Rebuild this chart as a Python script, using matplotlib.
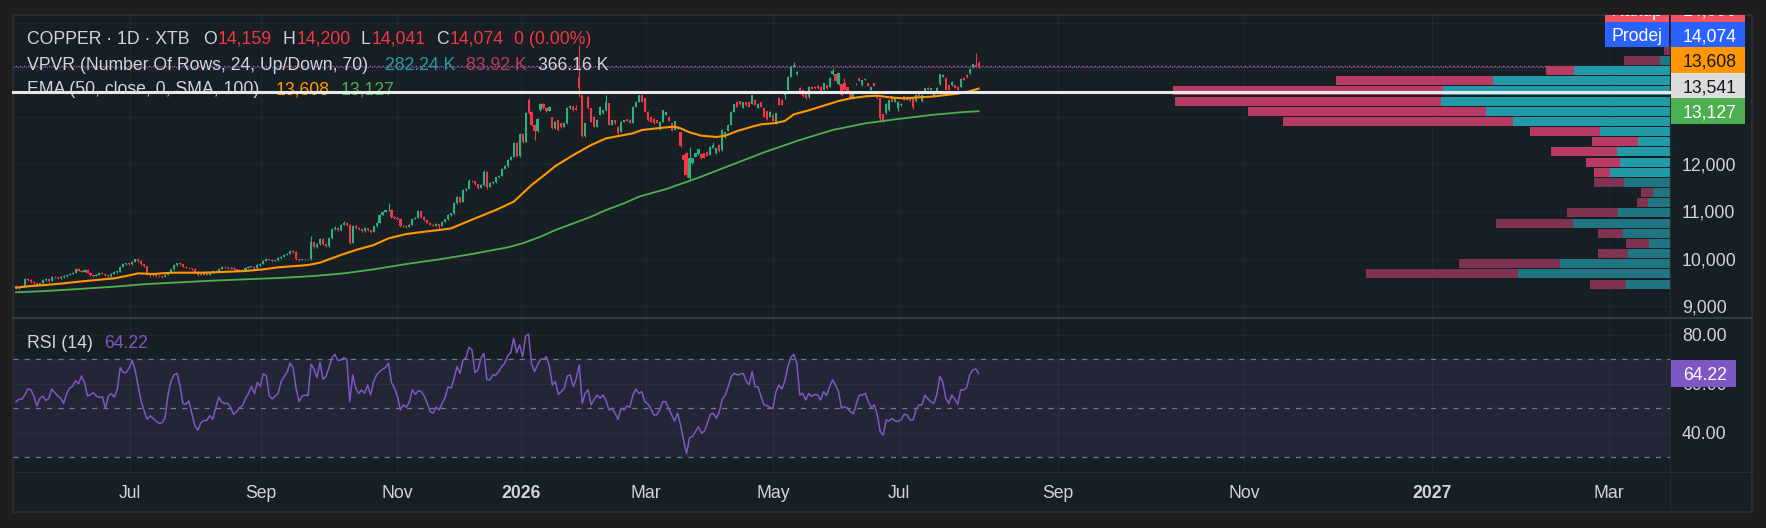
import numpy as np
import matplotlib
matplotlib.use("Agg")
import matplotlib.pyplot as plt
from matplotlib.patches import Rectangle
from matplotlib.lines import Line2D
from matplotlib.transforms import Bbox, blended_transform_factory

plt.rcParams["font.family"] = ["Liberation Sans", "DejaVu Sans"]

# daily candles, one value per bar
opens = [
    9420, 9380, 9400, 9420, 9560, 9550, 9500, 9470, 9440, 9470,
    9540, 9560, 9530, 9610, 9600, 9580, 9600, 9620, 9650, 9680,
    9700, 9780, 9740, 9720, 9760, 9700, 9640, 9630, 9660, 9690,
    9680, 9640, 9620, 9680, 9710, 9720, 9820, 9880, 9890, 9880,
    9930, 9980, 9950, 9880, 9840, 9660, 9640, 9650, 9630, 9620,
    9610, 9660, 9700, 9770, 9860, 9900, 9880, 9820, 9800, 9790,
    9780, 9720, 9650, 9660, 9690, 9660, 9700, 9740, 9730, 9780,
    9830, 9810, 9790, 9800, 9770, 9740, 9760, 9740, 9800, 9820,
    9830, 9790, 9860, 9890, 9950, 9990, 9970, 9950, 9960, 10010,
    10040, 10080, 10100, 10160, 10140, 9990, 9970, 9980, 9990, 9980,
    10340, 10240, 10300, 10420, 10300, 10260, 10430, 10620, 10650, 10600,
    10720, 10760, 10720, 10330, 10700, 10640, 10620, 10580, 10640, 10600,
    10570, 10680, 10760, 10930, 10990, 11020, 11040, 10890, 10860, 10840,
    10680, 10700, 10670, 10720, 10840, 10860, 11000, 10890, 10820, 10760,
    10720, 10700, 10730, 10690, 10780, 10830, 10920, 10960, 11170, 11300,
    11200, 11450, 11480, 11650, 11640, 11580, 11500, 11560, 11840, 11520,
    11600, 11620, 11720, 11760, 11900, 11960, 12100, 12160, 12450, 12170,
    12650, 12480, 13360, 13110, 12840, 12700, 13150, 13290, 13200, 13140,
    13000, 12770, 12940, 12870, 12800, 12870, 13190, 13230, 13200, 13860,
    13470, 12600, 13430, 13190, 13010, 12800, 13050, 13080, 13150, 13300,
    12840, 12940, 12800, 12690, 12900, 12960, 12950, 12880, 13220, 13330,
    13470, 13400, 13120, 13010, 12970, 12940, 12740, 12900, 13050, 13010,
    12870, 12730, 12750, 12680, 12200, 12250, 11700, 12020, 12160, 12210,
    12210, 12230, 12270, 12200, 12350, 12230, 12420, 12300, 12570, 12710,
    12840, 13120, 13330, 13340, 13200, 13320, 13330, 13290, 13370, 13200,
    13320, 13190, 13130, 13010, 13050, 12870, 13400, 13370, 13470, 13580,
    13860, 14070, 13910, 13630, 13580, 13510, 13420, 13650, 13650, 13670,
    13650, 13580, 13680, 13650, 13910, 13910, 13700, 13700, 13720, 13640,
    13540, 13400, 13700, 13830, 13680, 13790, 13720, 13580, 13720, 13470,
    13400, 13060, 13080, 13150, 13440, 13330, 13200, 13250, 13440, 13370,
    13400, 13400, 13340, 13510, 13340, 13540, 13630, 13580, 13440, 13530,
    13700, 13860, 13830, 13680, 13680, 13680, 13650, 13650, 13840, 13900,
    13930, 14050, 14110, 14159,
]
highs = [
    9440, 9420, 9440, 9590, 9580, 9565, 9520, 9490, 9490, 9560,
    9590, 9575, 9630, 9635, 9615, 9620, 9640, 9670, 9700, 9720,
    9800, 9795, 9760, 9775, 9770, 9710, 9655, 9680, 9705, 9715,
    9690, 9650, 9695, 9725, 9740, 9835, 9895, 9910, 9900, 9945,
    10000, 9985, 9960, 9890, 9850, 9670, 9665, 9660, 9645, 9635,
    9675, 9715, 9785, 9875, 9915, 9920, 9890, 9835, 9815, 9800,
    9790, 9730, 9675, 9705, 9700, 9715, 9755, 9750, 9795, 9845,
    9840, 9820, 9815, 9810, 9780, 9775, 9770, 9815, 9835, 9845,
    9840, 9875, 9905, 9965, 10010, 10000, 9980, 9975, 10025, 10055,
    10095, 10120, 10190, 10175, 10150, 10000, 9995, 10000, 10000, 10470,
    10350, 10320, 10440, 10430, 10310, 10450, 10640, 10680, 10660, 10740,
    10790, 10770, 10730, 10720, 10710, 10660, 10630, 10660, 10650, 10610,
    10700, 10780, 10950, 11010, 11040, 11185, 11050, 10900, 10880, 10850,
    10720, 10710, 10735, 10855, 10875, 11020, 11010, 10900, 10830, 10770,
    10730, 10745, 10740, 10795, 10845, 10935, 10975, 11190, 11320, 11310,
    11470, 11500, 11680, 11670, 11650, 11590, 11580, 11880, 11850, 11620,
    11640, 11740, 11780, 11920, 11980, 12120, 12180, 12480, 12470, 12670,
    12660, 13100, 13400, 13130, 12850, 12990, 13310, 13300, 13220, 13230,
    13010, 12920, 12950, 12880, 12890, 13210, 13260, 13240, 13250, 14530,
    13480, 12880, 13450, 13200, 13020, 12960, 13240, 13160, 13470, 13310,
    12950, 12950, 12810, 12910, 12950, 12970, 12960, 13230, 13340, 13480,
    13480, 13410, 13130, 13020, 12980, 12950, 12910, 13160, 13110, 13020,
    12880, 12930, 12810, 12690, 12210, 12260, 12370, 12140, 12240, 12330,
    12220, 12240, 12280, 12380, 12480, 12350, 12430, 12740, 12690, 12850,
    13130, 13290, 13340, 13350, 13330, 13330, 13340, 13480, 13380, 13300,
    13330, 13200, 13140, 13130, 13060, 13090, 13410, 13380, 13550, 13870,
    14080, 14180, 13980, 13640, 13590, 13520, 13660, 13660, 13660, 13680,
    13660, 13730, 13690, 13850, 14050, 13920, 13940, 13710, 13830, 13650,
    13550, 13510, 13720, 13840, 13800, 13830, 13730, 13650, 13730, 13480,
    13410, 13070, 13300, 13370, 13450, 13410, 13340, 13300, 13450, 13440,
    13410, 13410, 13490, 13520, 13490, 13620, 13640, 13630, 13550, 13640,
    13920, 13910, 13840, 13690, 13760, 13690, 13660, 13830, 13850, 13910,
    14040, 14130, 14360, 14200,
]
lows = [
    9350, 9360, 9385, 9410, 9530, 9490, 9455, 9420, 9430, 9460,
    9530, 9510, 9520, 9580, 9560, 9570, 9590, 9605, 9640, 9665,
    9690, 9730, 9705, 9710, 9690, 9625, 9600, 9620, 9650, 9670,
    9625, 9590, 9610, 9670, 9700, 9715, 9810, 9865, 9860, 9870,
    9920, 9930, 9870, 9820, 9640, 9600, 9625, 9615, 9605, 9590,
    9600, 9650, 9690, 9760, 9850, 9870, 9810, 9790, 9780, 9765,
    9710, 9630, 9640, 9650, 9645, 9650, 9690, 9715, 9720, 9770,
    9800, 9780, 9780, 9760, 9730, 9730, 9725, 9730, 9790, 9810,
    9780, 9780, 9850, 9880, 9940, 9960, 9935, 9940, 9950, 10000,
    10030, 10070, 10090, 10120, 9975, 9955, 9960, 9970, 9965, 9970,
    10220, 10230, 10290, 10290, 10240, 10250, 10420, 10600, 10580, 10590,
    10710, 10700, 10300, 10320, 10620, 10600, 10560, 10570, 10590, 10550,
    10560, 10670, 10750, 10920, 10980, 11010, 10870, 10840, 10820, 10660,
    10670, 10650, 10660, 10710, 10830, 10850, 10870, 10800, 10745, 10705,
    10680, 10690, 10620, 10680, 10770, 10820, 10910, 10950, 11160, 11180,
    11190, 11440, 11470, 11620, 11570, 11480, 11490, 11550, 11480, 11510,
    11590, 11610, 11710, 11750, 11890, 11950, 12090, 12150, 12150, 12160,
    12460, 12470, 13060, 12820, 12520, 12690, 13140, 13180, 13120, 13130,
    12750, 12760, 12710, 12780, 12790, 12860, 13180, 13140, 13150, 13430,
    12590, 12580, 13180, 12890, 12790, 12790, 13040, 13070, 13140, 12830,
    12830, 12860, 12650, 12680, 12890, 12910, 12870, 12870, 13210, 13320,
    13320, 13110, 12930, 12890, 12860, 12870, 12720, 12890, 13040, 12910,
    12700, 12720, 12740, 12370, 11780, 11740, 11670, 12010, 12150, 12200,
    12120, 12130, 12170, 12190, 12340, 12220, 12270, 12290, 12560, 12700,
    12830, 13110, 13210, 13260, 13190, 13240, 13210, 13280, 13250, 13190,
    13210, 13000, 12950, 13000, 12910, 12860, 13250, 13250, 13380, 13570,
    13850, 14060, 13900, 13500, 13430, 13390, 13410, 13590, 13600, 13600,
    13500, 13570, 13600, 13640, 13900, 13760, 13690, 13460, 13570, 13530,
    13390, 13390, 13680, 13760, 13670, 13780, 13660, 13570, 13660, 13390,
    12900, 12900, 13070, 13140, 13320, 13320, 13130, 13240, 13360, 13360,
    13340, 13180, 13330, 13450, 13330, 13530, 13570, 13570, 13430, 13520,
    13690, 13850, 13570, 13570, 13670, 13620, 13570, 13640, 13780, 13840,
    13920, 14040, 14060, 14041,
]
closes = [
    9380, 9400, 9420, 9560, 9550, 9500, 9470, 9440, 9470, 9540,
    9560, 9530, 9610, 9600, 9580, 9600, 9620, 9650, 9680, 9700,
    9780, 9740, 9720, 9760, 9700, 9640, 9630, 9660, 9690, 9680,
    9640, 9620, 9680, 9710, 9720, 9820, 9880, 9890, 9880, 9930,
    9980, 9950, 9880, 9840, 9660, 9640, 9650, 9630, 9620, 9610,
    9660, 9700, 9770, 9860, 9900, 9880, 9820, 9800, 9790, 9780,
    9720, 9650, 9660, 9690, 9660, 9700, 9740, 9730, 9780, 9830,
    9810, 9790, 9800, 9770, 9740, 9760, 9740, 9800, 9820, 9830,
    9790, 9860, 9890, 9950, 9990, 9970, 9950, 9960, 10010, 10040,
    10080, 10100, 10160, 10140, 9990, 9970, 9980, 9990, 9980, 10340,
    10240, 10300, 10420, 10300, 10260, 10430, 10620, 10650, 10600, 10720,
    10760, 10720, 10330, 10700, 10640, 10620, 10580, 10640, 10600, 10570,
    10680, 10760, 10930, 10990, 11020, 11040, 10890, 10860, 10840, 10680,
    10700, 10670, 10720, 10840, 10860, 11000, 10890, 10820, 10760, 10720,
    10700, 10730, 10690, 10780, 10830, 10920, 10960, 11170, 11300, 11200,
    11450, 11480, 11650, 11640, 11580, 11500, 11560, 11840, 11520, 11600,
    11620, 11720, 11760, 11900, 11960, 12100, 12160, 12450, 12170, 12650,
    12480, 13080, 13090, 12840, 12700, 12970, 13290, 13200, 13140, 13210,
    12770, 12900, 12730, 12800, 12870, 13190, 13230, 13150, 13160, 13610,
    12600, 12870, 13190, 12900, 12800, 12940, 13220, 13150, 13330, 12840,
    12940, 12870, 12660, 12900, 12940, 12920, 12880, 13220, 13330, 13470,
    13330, 13120, 12940, 12900, 12870, 12880, 12900, 13150, 13100, 12920,
    12710, 12920, 12800, 12380, 12090, 11780, 12130, 12130, 12230, 12320,
    12130, 12140, 12180, 12370, 12410, 12340, 12280, 12730, 12680, 12840,
    13120, 13270, 13220, 13270, 13320, 13250, 13220, 13470, 13260, 13290,
    13220, 13010, 12960, 13120, 12920, 13080, 13260, 13260, 13540, 13860,
    14070, 14100, 13970, 13510, 13440, 13400, 13650, 13600, 13610, 13610,
    13510, 13720, 13610, 13840, 13980, 13770, 13930, 13470, 13580, 13540,
    13400, 13500, 13700, 13770, 13790, 13820, 13670, 13640, 13670, 13400,
    12980, 12950, 13290, 13360, 13330, 13400, 13330, 13290, 13370, 13430,
    13350, 13220, 13480, 13460, 13480, 13610, 13580, 13620, 13540, 13630,
    13910, 13900, 13580, 13580, 13750, 13630, 13580, 13820, 13790, 13850,
    14030, 14120, 14070, 14074,
]
rsi = [
    52.7, 53.7, 53.7, 55.5, 58.0, 57.5, 55.0, 51.0, 54.0, 55.0,
    53.2, 54.0, 57.8, 56.5, 55.0, 54.2, 52.0, 56.0, 58.2, 59.0,
    61.3, 60.0, 63.2, 60.5, 55.0, 55.6, 56.4, 55.0, 54.4, 54.7,
    50.0, 55.0, 55.9, 54.6, 57.8, 66.6, 64.6, 64.6, 66.5, 69.5,
    65.5, 59.0, 53.0, 49.0, 45.5, 46.9, 45.9, 44.8, 43.9, 44.1,
    46.0, 55.4, 61.0, 63.6, 64.3, 59.5, 52.0, 51.6, 53.0, 48.0,
    43.0, 41.0, 44.0, 45.0, 45.0, 47.0, 45.5, 50.0, 54.5, 52.6,
    52.0, 52.0, 50.5, 47.5, 48.5, 50.3, 51.0, 54.0, 56.0, 59.0,
    56.0, 60.5, 59.0, 64.2, 63.2, 55.0, 53.8, 55.0, 56.2, 61.0,
    63.0, 64.8, 68.5, 66.5, 58.0, 52.7, 55.0, 55.4, 55.2, 68.0,
    66.0, 62.5, 68.8, 61.8, 63.0, 66.5, 70.5, 72.0, 69.6, 69.7,
    70.7, 70.0, 52.7, 63.6, 58.2, 56.1, 57.5, 56.1, 59.5, 55.4,
    60.9, 63.6, 65.0, 65.9, 66.7, 68.4, 60.5, 58.2, 54.8, 49.3,
    51.4, 50.4, 52.7, 57.5, 55.7, 57.2, 56.8, 55.0, 52.0, 48.6,
    48.0, 50.5, 49.3, 52.0, 54.5, 58.8, 58.2, 62.2, 67.0, 64.3,
    69.7, 70.7, 74.9, 73.8, 64.6, 65.6, 70.4, 72.4, 61.8, 61.6,
    63.6, 63.6, 65.0, 67.0, 68.4, 71.4, 72.7, 78.6, 72.7, 75.9,
    71.1, 79.5, 80.2, 68.1, 65.0, 67.7, 70.0, 70.1, 71.1, 67.0,
    59.5, 60.9, 55.7, 56.8, 58.2, 63.2, 63.6, 58.8, 62.2, 67.7,
    52.0, 56.1, 57.5, 51.4, 53.7, 55.4, 54.1, 55.4, 53.1, 49.3,
    50.0, 48.0, 45.5, 50.0, 49.3, 51.0, 50.4, 55.4, 57.8, 56.1,
    56.8, 52.7, 51.8, 50.0, 47.3, 47.3, 49.3, 52.7, 52.7, 50.0,
    47.3, 44.8, 48.0, 43.2, 37.0, 31.5, 38.0, 38.5, 40.5, 42.5,
    39.8, 40.7, 43.9, 47.6, 48.0, 45.9, 48.6, 53.8, 55.4, 58.8,
    62.9, 64.3, 63.6, 63.9, 64.3, 61.2, 59.5, 65.0, 58.8, 58.8,
    54.8, 51.4, 51.1, 50.3, 50.0, 56.8, 59.5, 57.9, 61.2, 67.0,
    70.8, 72.0, 68.4, 55.4, 56.1, 53.4, 56.1, 54.8, 55.7, 55.4,
    53.4, 56.8, 55.2, 58.8, 61.6, 59.5, 56.8, 50.0, 50.7, 50.0,
    48.6, 47.8, 52.0, 55.4, 55.4, 56.1, 52.7, 50.3, 51.4, 47.3,
    40.5, 39.1, 45.2, 44.8, 45.9, 44.8, 44.6, 45.2, 47.6, 47.3,
    45.2, 45.2, 49.3, 51.4, 51.4, 55.4, 53.8, 52.7, 52.0, 55.7,
    62.9, 60.6, 54.1, 52.0, 55.4, 53.8, 51.6, 57.5, 57.5, 58.4,
    63.6, 65.6, 66.1, 64.22,
]

# EMA 50 (orange) and its SMA 100 (green), read at these bar numbers
ema_bar = [0, 5, 10, 16, 21, 27, 33, 37, 41, 46, 52, 57, 62, 66, 72, 77, 83, 88, 94, 98,
           102, 105, 109, 114, 120, 125, 131, 137, 142, 146, 150, 156, 161, 167, 170, 173,
           178, 181, 187, 193, 198, 204, 207, 210, 215, 219, 221, 223, 226, 230, 235, 238,
           242, 247, 250, 255, 258, 261, 266, 271, 276, 280, 285, 289, 294, 298, 303, 307,
           312, 316, 320, 323]
ema_val = [9381, 9416, 9438, 9473, 9508, 9544, 9579, 9629, 9685, 9671, 9699, 9699, 9699,
           9706, 9721, 9735, 9770, 9813, 9841, 9862, 9912, 9982, 10074, 10180, 10286, 10428,
           10520, 10569, 10605, 10640, 10746, 10902, 11029, 11206, 11383, 11560, 11808, 11963,
           12197, 12410, 12551, 12622, 12657, 12728, 12763, 12790, 12799, 12764, 12679, 12608,
           12580, 12608, 12707, 12799, 12849, 12877, 12920, 13061, 13146, 13245, 13344, 13401,
           13443, 13457, 13415, 13401, 13422, 13436, 13471, 13500, 13550, 13608]
sma_bar = [0, 10, 21, 33, 44, 55, 66, 77, 88, 100, 110, 120, 131, 142, 153, 165, 170, 176,
           181, 187, 193, 198, 204, 209, 215, 218, 229, 240, 251, 263, 274, 285, 296, 307,
           318, 323]
sma_val = [9282, 9310, 9353, 9402, 9459, 9494, 9530, 9558, 9586, 9629, 9685, 9770, 9883,
           9982, 10095, 10237, 10322, 10463, 10605, 10746, 10888, 11029, 11171, 11312, 11419,
           11470, 11716, 11985, 12254, 12516, 12728, 12870, 12962, 13047, 13110, 13127]

# volume profile, 24 rows from the top price row down
up_vol = [0, 10, 95, 176, 225, 227, 182, 156, 69, 32, 53, 50, 60, 46, 17, 22, 52, 96, 47,
          21, 42, 109, 151, 44]
down_vol = [6, 36, 28, 155, 268, 264, 237, 228, 70, 45, 65, 33, 15, 29, 12, 11, 50, 77, 24,
            23, 29, 100, 150, 35]
in_value_area = [False, False] + [True] * 11 + [False] * 11

month_pos = [38.3, 82.2, 127.9, 169.5, 211.4, 254.0, 296.3, 349.7, 412.1, 475.2, 534.6]
month_lbl = ["Jul", "Sep", "Nov", "2026", "Mar", "May", "Jul", "Sep", "Nov", "2027", "Mar"]

price_ticks = [9000, 10000, 11000, 12000]
grid_prices = [9000, 10000, 11000, 12000, 13000, 14000, 15000]
rsi_ticks = [80, 60, 40]

bid, ask = 14074, 14090
hline_price = 13541
last_ema, last_sma = 13608, 13127

W, H = 1766, 528
FS = 12.7
BG_OUT = "#1e1e1e"
BG = "#171f24"
GRID = (1, 1, 1, 0.045)
TXT = "#d1d4dc"
UP_C = "#2bb07f"
DN_C = "#f23645"
TEAL = "#229ba9"
PINK = "#b83b66"


def fx(px):
    return px / W


def fy(py):
    return 1 - py / H


fig = plt.figure(figsize=(W / 100, H / 100), dpi=100, facecolor=BG_OUT)
fig.add_artist(Rectangle((fx(13), fy(512)), fx(1739), 497 / H, transform=fig.transFigure,
                         facecolor=BG, edgecolor="#2b3034", lw=1.2, zorder=-10))

ax = fig.add_axes([fx(13), fy(318), fx(1657), 303 / H])
axr = fig.add_axes([fx(13), fy(472), fx(1657), 154 / H], sharex=ax)
for a in (ax, axr):
    a.set_facecolor("none")
    for s in a.spines.values():
        s.set_visible(False)
    a.yaxis.tick_right()
    a.tick_params(length=0, labelsize=FS, labelcolor=TXT, pad=8.6, labelbottom=False)
ax.set_xlim(-1.0, 555.0)
ax.set_ylim(8737, 15170)
axr.set_ylim(24.0, 86.86)
ax.set_xticks([])
ax.set_yticks(price_ticks, [f"{p:,}" for p in price_ticks])
axr.set_yticks(rsi_ticks, [f"{r:.2f}" for r in rsi_ticks])

# grid
for p in grid_prices:
    ax.axhline(p, color=GRID, lw=0.8, zorder=0.5)
for m in month_pos:
    ax.axvline(m, color=GRID, lw=0.8, zorder=0.5)
    axr.axvline(m, color=GRID, lw=0.8, zorder=0.5)
axr.axhspan(30, 70, color="#222637", lw=0, zorder=0)
for r in rsi_ticks:
    axr.axhline(r, color=GRID, lw=0.8, zorder=0.5)
for r in (70, 50, 30):
    axr.axhline(r, color="#787b86", lw=0.9, ls=(0, (4, 5)), zorder=1)

# candles
o, h, l, c = (np.array(v, dtype=float) for v in (opens, highs, lows, closes))
x = np.arange(len(c))
cols = np.where(c >= o, UP_C, DN_C)
ax.vlines(x, l, h, colors=cols, lw=0.8, zorder=2)
ax.bar(x, np.maximum(np.abs(c - o), 15), bottom=np.minimum(o, c), width=0.72,
       color=cols, lw=0, zorder=3)
ax.plot(ema_bar, ema_val, color="#ff9800", lw=1.5, zorder=4)
ax.plot(sma_bar, sma_val, color="#4caf50", lw=1.3, zorder=4)
ax.axhline(bid, color="#2962ff", lw=1.0, ls=(0, (1, 2)), zorder=5)
ax.axhline(ask, color="#f7525f", lw=1.0, ls=(1.5, (1, 2)), zorder=5)

# RSI
axr.plot(x, rsi, color="#7e57c2", lw=1.1, zorder=3)

# volume profile anchored at the right edge
axv = ax.twiny()
tot = np.array(up_vol) + np.array(down_vol)
axv.set_xlim(tot.max() / 0.30, 0)
axv.axis("off")
lo, hi = min(lows), max(highs)
row_h = (hi - lo) / len(up_vol)
centers = hi - row_h * (np.arange(len(up_vol)) + 0.5)
teal_c = [TEAL if v else "#1f7682" for v in in_value_area]
pink_c = [PINK if v else "#7f3352" for v in in_value_area]
axv.barh(centers, up_vol, height=row_h * 0.88, left=0, color=teal_c, lw=0)
axv.barh(centers, down_vol, height=row_h * 0.88, left=up_vol, color=pink_c, lw=0)

# drawn horizontal line (over everything, like the original)
fig.add_artist(Line2D([0, 1], [hline_price, hline_price],
                      transform=blended_transform_factory(ax.transAxes, ax.transData),
                      color="#e8e8e8", lw=2.2, zorder=6))

# pane separators
fig.add_artist(Line2D([fx(13), fx(1752)], [fy(318)] * 2, transform=fig.transFigure,
                      color="#3d474d", lw=1.1, zorder=2))
fig.add_artist(Line2D([fx(13), fx(1752)], [fy(472)] * 2, transform=fig.transFigure,
                      color="#242c31", lw=0.8, zorder=2))
fig.add_artist(Line2D([fx(1670)] * 2, [fy(15), fy(512)], transform=fig.transFigure,
                      color="#262e33", lw=0.8, zorder=2))


def ypx(a, v):
    return H - a.transData.transform((0, v))[1]


def ftext(px, base, s, color, **kw):
    return fig.text(fx(px), fy(base), s, color=color, fontsize=FS, va="baseline", **kw)


# price labels on the right, stacked upward when they collide
clip = Bbox.from_extents(0, H - 512, W, H - 15)
box_h = 25.5
stack = [(last_sma, "#4caf50", "white", None), (hline_price, "#dcdcdc", "#131722", None),
         (last_ema, "#ff9800", "#131722", None), (bid, "#2962ff", "white", "Prodej"),
         (ask, "#f7525f", "white", "Nákup")]
prev = None
for v, fc, tc, side in stack:
    yc = ypx(ax, v)
    if prev is not None:
        yc = min(yc, prev - box_h)
    prev = yc
    top, bot = max(yc - box_h / 2, 15), yc + box_h / 2
    if bot <= 15:
        continue
    fig.add_artist(Rectangle((fx(1671), fy(bot)), fx(74), (bot - top) / H,
                             transform=fig.transFigure, fc=fc, lw=0, zorder=4))
    t = ftext(1683, yc + 6.3, f"{v:,}", tc, zorder=5)
    t.set_clip_box(clip)
    if side:
        fig.add_artist(Rectangle((fx(1605), fy(bot)), fx(64), (bot - top) / H,
                                 transform=fig.transFigure, fc=fc, lw=0, zorder=4))
        t = ftext(1637, yc + 6.3, side, tc, ha="center", zorder=5)
        t.set_clip_box(clip)

yc = ypx(axr, rsi[-1])
fig.add_artist(Rectangle((fx(1671), fy(yc + 13.5)), fx(65), 27 / H,
                         transform=fig.transFigure, fc="#7e57c2", lw=0, zorder=4))
ftext(1683, yc + 6.3, f"{rsi[-1]:.2f}", "white", zorder=5)

# legend lines
ftext(27, 44, "COPPER · 1D · XTB", TXT)
for px, s, col in [(203, "O", TXT), (218, f"{opens[-1]:,}", DN_C), (282, "H", TXT),
                   (296.5, f"{highs[-1]:,}", DN_C), (361, "L", TXT), (372, f"{lows[-1]:,}", DN_C),
                   (436, "C", TXT), (449.5, f"{closes[-1]:,}", DN_C), (514, "0 (0.00%)", DN_C)]:
    ftext(px, 44, s, col)
ftext(27, 70, "VPVR (Number Of Rows, 24, Up/Down, 70)", TXT)
ftext(385, 70, "282.24 K", TEAL)
ftext(466, 70, "83.92 K", PINK)
ftext(538, 70, "366.16 K", TXT)
ftext(27, 94.5, "EMA (50, close, 0, SMA, 100)", TXT)
ftext(276, 94.5, f"{last_ema:,}", "#ff9800")
ftext(341, 94.5, f"{last_sma:,}", "#4caf50")
ftext(27, 348.5, "RSI (14)", TXT)
ftext(104, 348.5, f"{rsi[-1]:.2f}", "#7e57c2")

# time axis labels
xt = blended_transform_factory(axr.transData, fig.transFigure)
for pos, lbl in zip(month_pos, month_lbl):
    axr.text(pos, fy(497.5), lbl, transform=xt, ha="center", va="baseline", color=TXT,
             fontsize=FS, weight="bold" if lbl.isdigit() else "normal", clip_on=False)

fig.savefig("out.png", dpi=100, facecolor=BG_OUT)
